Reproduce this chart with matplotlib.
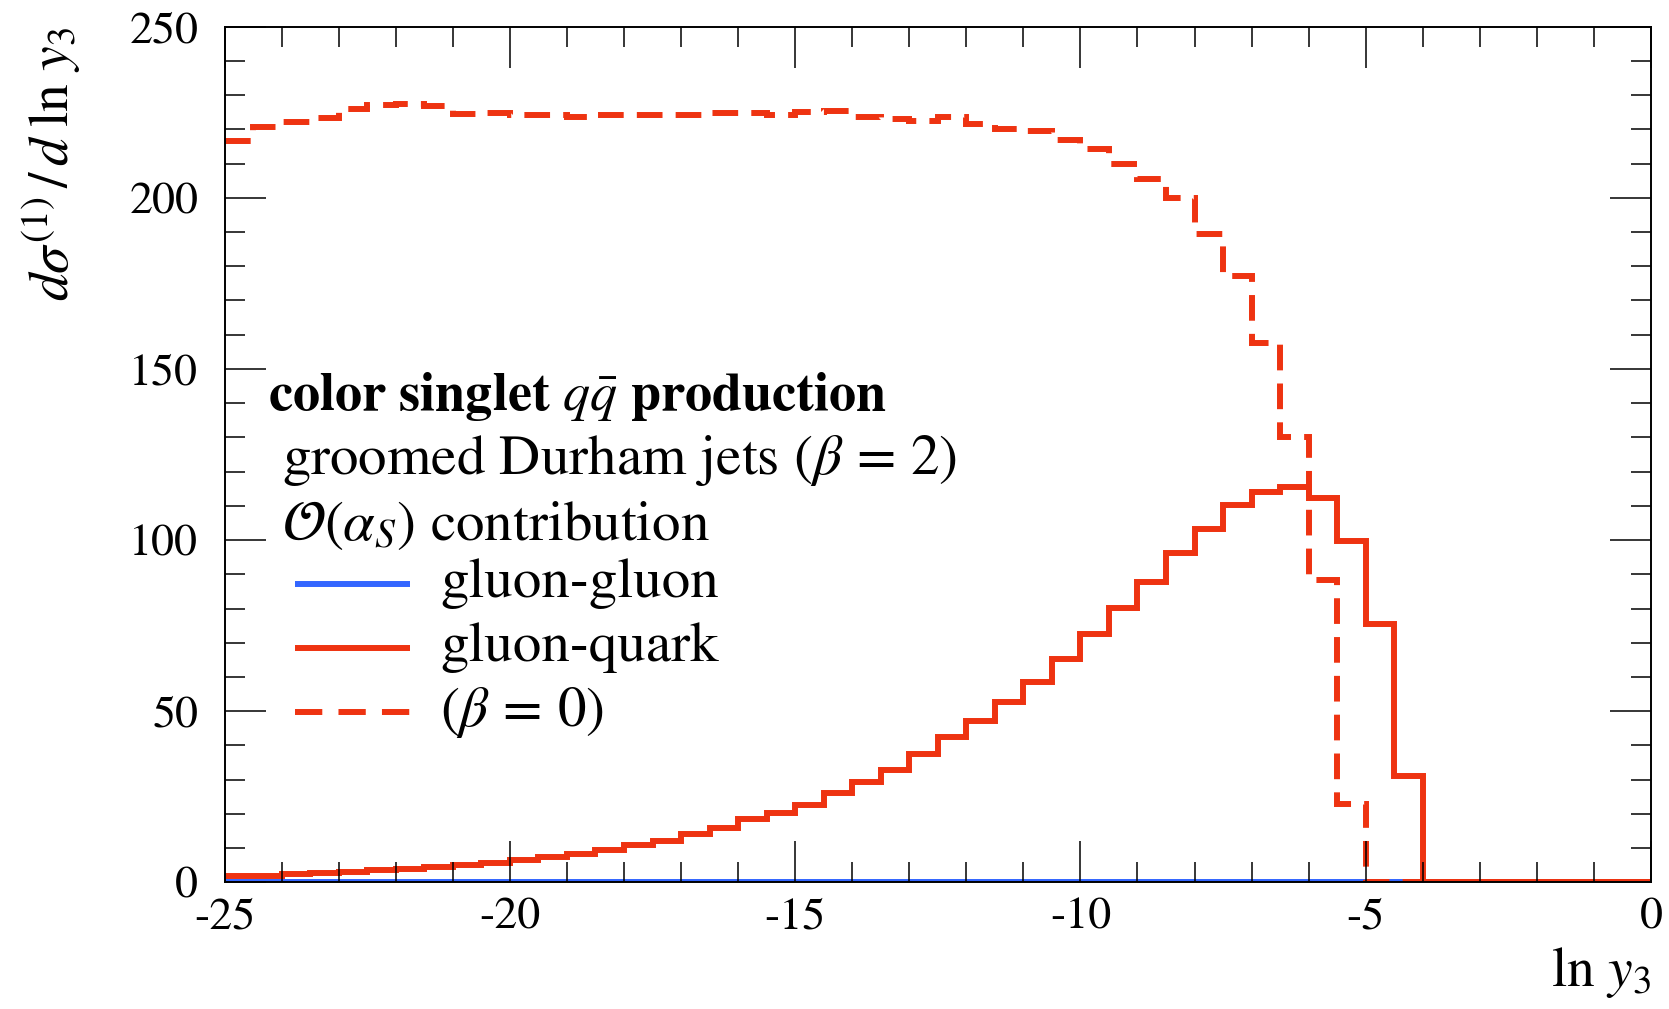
import matplotlib
matplotlib.use('Agg')
import matplotlib.pyplot as plt
import numpy as np
from matplotlib.lines import Line2D
from matplotlib.ticker import MultipleLocator

plt.rcParams['mathtext.fontset'] = 'stix'
plt.rcParams['font.family'] = ['STIXGeneral', 'DejaVu Serif']
plt.rcParams['axes.unicode_minus'] = False

# ---------------- data ----------------
bin_edges = np.linspace(-25.0, 0.0, 51)

gluon_gluon = [0, 0, 0, 0, 0, 0, 0, 0, 0, 0,
               0, 0, 0, 0, 0, 0, 0, 0, 0, 0,
               0, 0, 0, 0, 0, 0, 0, 0, 0, 0,
               0, 0, 0, 0, 0, 0, 0, 0, 0, 0,
               0, 0, 0, 0, 0, 0, 0, 0, 0, 0]

gluon_quark = [1.8, 2.0, 2.4, 2.8, 3.1, 3.6, 4.0, 4.5, 5.0, 5.6,
               6.5, 7.3, 8.2, 9.5, 10.9, 12.2, 14.1, 15.8, 18.4, 20.2,
               22.7, 26.2, 29.4, 32.8, 37.4, 42.6, 47.1, 52.8, 58.6, 65.4,
               72.7, 80.2, 87.8, 96.1, 103.3, 110.2, 114.1, 115.6, 112.2, 99.8,
               75.5, 31.2, 0, 0, 0, 0, 0, 0, 0, 0]

gluon_quark_beta0 = [216.6, 220.7, 222.0, 223.2, 225.8, 227.1, 227.5, 226.9, 224.6, 224.8,
                     224.1, 224.3, 223.6, 224.3, 224.2, 224.1, 224.1, 224.9, 224.9, 224.1,
                     225.0, 225.2, 223.5, 222.9, 222.5, 223.6, 221.5, 220.2, 219.5, 217.0,
                     214.2, 210.0, 205.6, 199.8, 189.5, 177.0, 157.6, 130.2, 88.3, 22.9,
                     0, 0, 0, 0, 0, 0, 0, 0, 0, 0]

x_major = [-25, -20, -15, -10, -5, 0]
x_labels = ['-25', '-20', '-15', '-10', '-5', '0']
y_major = [0, 50, 100, 150, 200, 250]
y_labels = ['0', '50', '100', '150', '200', '250']

title_lines = [r'color singlet $q\bar{q}$ production',
               r'groomed Durham jets $(\beta\,=\,2)$',
               r'$\mathcal{O}(\alpha_S)$ contribution']
series_labels = ['gluon-gluon', 'gluon-quark', r'$(\beta\,=\,0)$']

RED = '#EE3311'
BLUE = '#3366FF'

# ---------------- figure ----------------
W, H = 1669, 1009
fig = plt.figure(figsize=(W / 100, H / 100), dpi=100)
ax = fig.add_axes([224.6 / W, 1 - 882.4 / H, (1651 - 224.6) / W, (882.4 - 26.6) / H])

lw = 4.3
dash_plot = (0, (4.3, 2.2))
ax.stairs(gluon_gluon, bin_edges, baseline=None, color=BLUE, lw=lw)
ax.stairs(gluon_quark, bin_edges, baseline=None, color=RED, lw=lw)
ax.stairs(gluon_quark_beta0, bin_edges, baseline=None, color=RED, lw=lw,
          linestyle=dash_plot)

ax.set_xlim(-25, 0)
ax.set_ylim(0, 250)
ax.set_xticks(x_major)
ax.set_xticklabels(x_labels)
ax.set_yticks(y_major)
ax.set_yticklabels(y_labels)
ax.xaxis.set_minor_locator(MultipleLocator(1))
ax.yaxis.set_minor_locator(MultipleLocator(10))
ax.tick_params(which='both', direction='in', top=True, right=True, width=1.1,
               labelsize=33, colors='black')
ax.tick_params(which='major', length=29.5)
ax.tick_params(which='minor', length=14.4)
ax.tick_params(axis='x', which='major', pad=11)
ax.tick_params(axis='y', which='major', pad=19)
for s in ax.spines.values():
    s.set_linewidth(1.4)

# axis labels
fig.text(51 / W, 1 - 26.6 / H, r'$d\sigma^{(1)}\,/\,d\;\ln\,y_3$', rotation=90,
         ha='center', va='top', fontsize=40)
fig.text(1651 / W, 1 - 972 / H, r'$\ln\,y_3$', ha='right', va='center', fontsize=40)

# legend block
fs = 41
fig.text(268 / W, 1 - 397 / H, title_lines[0], ha='left', va='center',
         fontsize=39, fontweight='bold')
fig.text(282 / W, 1 - 461 / H, title_lines[1], ha='left', va='center', fontsize=fs)
fig.text(282 / W, 1 - 525 / H, title_lines[2], ha='left', va='center', fontsize=fs)

entry_y = [584, 648, 712]
styles = [dict(color=BLUE, lw=lw, ls='-'),
          dict(color=RED, lw=lw, ls='-'),
          dict(color=RED, lw=lw, ls=(0, (4.57, 2.71)))]
for yy, lab, st in zip(entry_y, series_labels, styles):
    ln = Line2D([295 / W, 410 / W], [1 - yy / H, 1 - yy / H], transform=fig.transFigure,
                solid_capstyle='butt', dash_capstyle='butt', **st)
    fig.add_artist(ln)
    fig.text(440 / W, 1 - yy / H, lab, ha='left', va='center', fontsize=fs)

fig.savefig('out.png', dpi=100)
